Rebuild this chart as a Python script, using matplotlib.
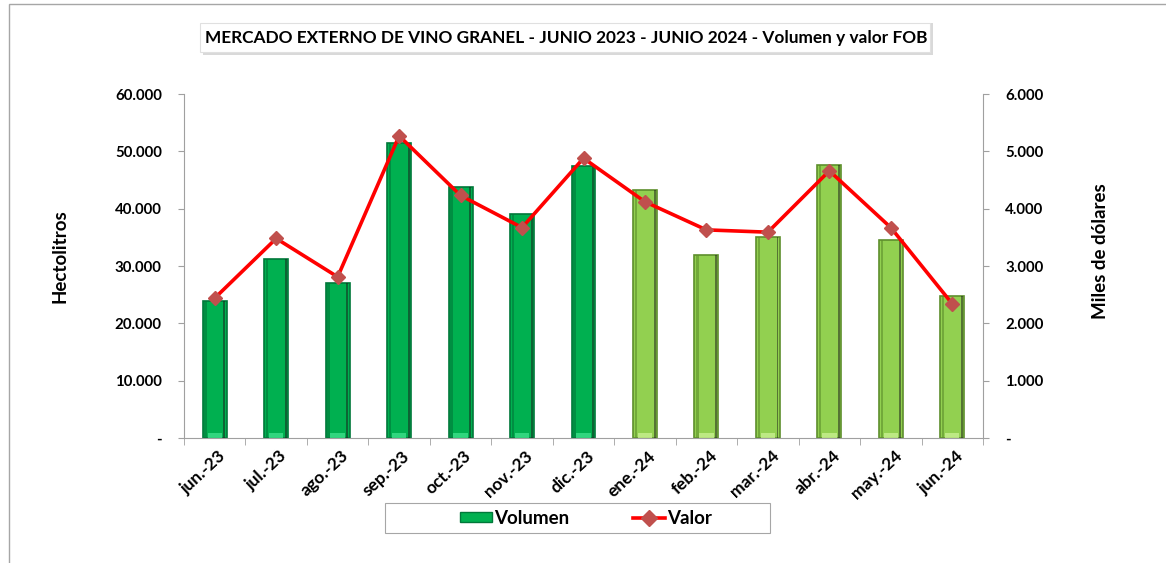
import matplotlib
matplotlib.use("Agg")
import matplotlib.pyplot as plt
from matplotlib.patches import Rectangle, Patch
from matplotlib.lines import Line2D
from matplotlib.transforms import ScaledTranslation
import numpy as np

plt.rcParams['font.family'] = ['Lato', 'DejaVu Sans']

months = ["jun.-23", "jul.-23", "ago.-23", "sep.-23", "oct.-23", "nov.-23", "dic.-23",
          "ene.-24", "feb.-24", "mar.-24", "abr.-24", "may.-24", "jun.-24"]
volumen = [23900, 31200, 27000, 51500, 43700, 39100, 47400,
           43300, 31900, 35000, 47600, 34500, 24800]
valor = [2440, 3480, 2810, 5270, 4230, 3670, 4880,
         4120, 3630, 3590, 4660, 3670, 2340]
left_ticks = [0, 10000, 20000, 30000, 40000, 50000, 60000]
right_ticks = [0, 1000, 2000, 3000, 4000, 5000, 6000]

def fmt(v):
    return "-" if v == 0 else f"{v:,.0f}".replace(",", ".")

W, H = 1166, 563
fig = plt.figure(figsize=(W / 100, H / 100), dpi=100)
ax = fig.add_axes([184 / W, 1 - 438 / H, (983 - 184) / W, (438 - 94) / H])
ax2 = ax.twinx()

x = np.arange(len(months))
colors = ["#00B050"] * 7 + ["#92D050"] * 6
edges = ["#00783A"] * 7 + ["#5E8F2C"] * 6
light = ["#3EE08A"] * 7 + ["#C8F090"] * 6
bw = 0.39
ax.bar(x, volumen, width=bw, color=colors, edgecolor=edges, linewidth=1.2, zorder=2)
# bevel-like inner shading
ax.bar(x - bw * 0.38, volumen, width=bw * 0.1, color=edges, alpha=0.6, linewidth=0, zorder=3)
ax.bar(x + bw * 0.40, volumen, width=bw * 0.08, color="#1a1a1a", alpha=0.5, linewidth=0, zorder=3)
ax.bar(x, [800] * len(volumen), width=bw * 0.6, color=light, linewidth=0, zorder=3, alpha=0.8)

ax.set_xlim(-0.5, len(months) - 0.5)
ax.set_ylim(0, 60000)
ax2.set_ylim(0, 6000)

ax2.plot(x, valor, color="#FF0000", lw=2.6, marker="D", markersize=7.5,
         markerfacecolor="#C0504D", markeredgecolor="#C0504D", zorder=5)

ax.set_yticks(left_ticks)
ax.set_yticklabels([fmt(v) for v in left_ticks], fontsize=10.8, fontweight="bold")
ax2.set_yticks(right_ticks)
ax2.set_yticklabels([fmt(v) for v in right_ticks], fontsize=10.8, fontweight="bold")

ax.set_xticks(x)
ax.set_xticklabels(months, rotation=43, ha="right", rotation_mode="anchor",
                   fontsize=12.5, fontweight="bold")
ax.tick_params(axis="x", which="major", length=0, pad=7)
ax.set_xticks(np.arange(-0.5, len(months)), minor=True)
ax.tick_params(axis="x", which="minor", length=5, color="#A0A0A0")
ax.tick_params(axis="y", length=4, color="#A0A0A0", pad=12)
ax2.tick_params(axis="y", length=4, color="#A0A0A0", pad=12)
for lbl in ax.get_xticklabels():
    lbl.set_transform(lbl.get_transform() + ScaledTranslation(0.03, 0, fig.dpi_scale_trans))

for a in (ax, ax2):
    a.spines["top"].set_visible(False)
    for s in ("left", "right", "bottom"):
        a.spines[s].set_color("#A0A0A0")
ax.spines["right"].set_visible(False)
ax2.spines["left"].set_visible(False)
ax2.spines["bottom"].set_visible(False)

fig.text(60 / W, 1 - 256 / H, "Hectolitros", rotation=90, ha="center", va="center",
         fontsize=13.5, fontweight="bold")
fig.text(1101 / W, 1 - 251 / H, "Miles de dólares", rotation=90, ha="center", va="center",
         fontsize=13.5, fontweight="bold")

# outer chart border
fig.patches.append(Rectangle((9 / W, -0.1), 1.2, 1 - 4 / H + 0.1, transform=fig.transFigure,
                             fill=False, edgecolor="#A6A6A6", lw=1.0))

# title box with shadow
fig.patches.append(Rectangle((203 / W, 1 - 55 / H), (933 - 203) / W, (55 - 23) / H,
                             transform=fig.transFigure, facecolor="#D9D9D9", edgecolor="none"))
fig.patches.append(Rectangle((200 / W, 1 - 52 / H), (930 - 200) / W, (52 - 23) / H,
                             transform=fig.transFigure, facecolor="white", edgecolor="#E0E0E0", lw=0.8))
fig.text(566 / W, 1 - 38 / H, "MERCADO EXTERNO DE VINO GRANEL - JUNIO 2023 - JUNIO 2024 - Volumen y valor FOB",
         ha="center", va="center", fontsize=12.4, fontweight="bold")

# legend frame
fig.patches.append(Rectangle((385 / W, 1 - 533 / H), (770 - 385) / W, (533 - 503) / H,
                             transform=fig.transFigure, facecolor="white", edgecolor="#A6A6A6", lw=0.8))
handles = [Patch(facecolor="#00B050", edgecolor="#00783A", label="Volumen"),
           Line2D([0], [0], color="#FF0000", lw=2.6, marker="D", markersize=8,
                  markerfacecolor="#C0504D", markeredgecolor="#C0504D", label="Valor")]
leg = fig.legend(handles=handles, loc="center", bbox_to_anchor=(586 / W, 1 - 518 / H),
                 ncol=2, frameon=False, prop={"weight": "bold", "size": 13.5},
                 handlelength=1.7, handleheight=0.5, handletextpad=0.1, columnspacing=3.4,
                 borderpad=0.2, borderaxespad=0)

fig.savefig("out.png", dpi=100)
